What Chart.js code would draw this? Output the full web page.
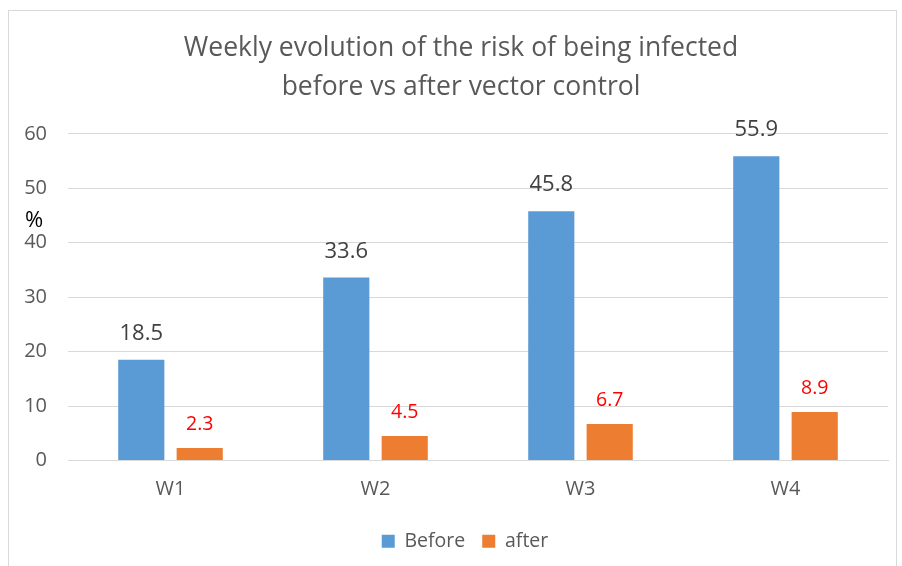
<!DOCTYPE html>
<html>
<head>
<meta charset="utf-8">
<script src="https://cdn.jsdelivr.net/npm/chart.js@4.4.1/dist/chart.umd.min.js"></script>
<style>
  html, body { margin: 0; padding: 0; background: #fff; }
  #wrap { position: relative; width: 902px; height: 566px; }
  #frame { position: absolute; left: 8px; top: 10px; width: 889px; height: 570px; border: 1px solid #d9d9d9; box-sizing: border-box; }
  canvas { position: absolute; left: 0; top: 0; }
</style>
</head>
<body>
<div id="wrap">
  <div id="frame"></div>
  <canvas id="riskChart" width="902" height="566"></canvas>
</div>
<script>
const weeks = ['W1', 'W2', 'W3', 'W4'];
const beforeValues = [18.5, 33.6, 45.8, 55.9];
const afterValues = [2.3, 4.5, 6.7, 8.9];
const yTicks = [0, 10, 20, 30, 40, 50, 60];

const FONT = "'Open Sans', sans-serif";

// value labels above each bar + the "%" axis mark
const labelPlugin = {
  id: 'valueLabels',
  afterLayout(chart) {
    // title and legend sit a bit right of the canvas middle in the original
    if (chart.titleBlock) chart.titleBlock.left = 34;
    if (chart.legend) chart.legend.left = 42;
  },
  afterDatasetsDraw(chart) {
    const ctx = chart.ctx;
    ctx.save();
    ctx.textAlign = 'center';
    ctx.textBaseline = 'middle';
    chart.data.datasets.forEach((ds, i) => {
      const meta = chart.getDatasetMeta(i);
      meta.data.forEach((bar, j) => {
        if (i === 0) {
          ctx.font = '22px ' + FONT;
          ctx.fillStyle = '#404040';
          ctx.fillText(ds.data[j].toFixed(1), bar.x, bar.y - 26);
        } else {
          ctx.font = '19.5px ' + FONT;
          ctx.fillStyle = '#ff0000';
          ctx.fillText(ds.data[j].toFixed(1), bar.x, bar.y - 24);
        }
      });
    });
    ctx.font = '22px ' + FONT;
    ctx.fillStyle = '#000';
    ctx.textAlign = 'left';
    ctx.fillText('%', 25, 221);
    ctx.restore();
  }
};

new Chart(document.getElementById('riskChart'), {
  type: 'bar',
  data: {
    labels: weeks,
    datasets: [
      {
        label: 'Before',
        data: beforeValues,
        backgroundColor: '#5b9bd5',
        categoryPercentage: 0.57,
        barPercentage: 0.79
      },
      {
        label: 'after',
        data: afterValues,
        backgroundColor: '#ed7d31',
        categoryPercentage: 0.57,
        barPercentage: 0.79
      }
    ]
  },
  options: {
    responsive: false,
    animation: false,
    layout: { padding: { left: 0, right: 14, top: 0, bottom: 5 } },
    plugins: {
      title: {
        display: true,
        text: ['Weekly evolution of the risk of being infected', 'before vs after vector control'],
        color: '#595959',
        font: { family: FONT, size: 26.5, weight: 'normal', lineHeight: 1.47 },
        padding: { top: 29, bottom: 27 }
      },
      legend: {
        position: 'bottom',
        labels: {
          color: '#595959',
          font: { family: FONT, size: 19.5 },
          boxWidth: 13,
          boxHeight: 13,
          padding: 17
        }
      },
      tooltip: { enabled: false }
    },
    scales: {
      x: {
        afterFit(scale) { scale.height = 54; },
        grid: { display: false, drawTicks: false },
        border: { color: '#d9d9d9' },
        ticks: { color: '#595959', font: { family: FONT, size: 20 }, padding: 17 }
      },
      y: {
        min: 0,
        max: 60,
        afterBuildTicks(scale) {
          scale.ticks = yTicks.map(v => ({ value: v }));
        },
        afterFit(scale) { scale.width = 68; },
        grid: { color: '#d9d9d9', drawTicks: false },
        border: { display: false },
        ticks: { color: '#595959', font: { family: FONT, size: 20 }, padding: 21 }
      }
    }
  },
  plugins: [labelPlugin]
});
</script>
</body>
</html>
